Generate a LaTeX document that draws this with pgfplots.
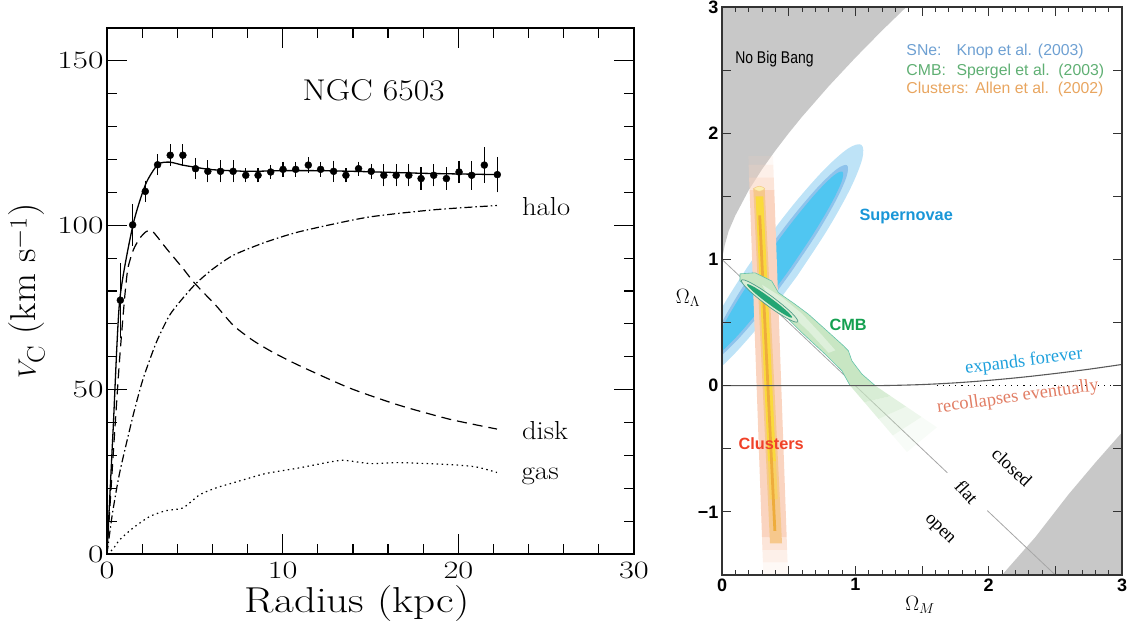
\documentclass[border=0pt]{standalone}
\usepackage{fontspec}
\usepackage{pgfplots}
\pgfplotsset{compat=1.18}
\newfontfamily\arialf{Liberation Sans}
\newfontfamily\narrowf[FakeStretch=0.82]{Liberation Sans}
\newfontfamily\timesf{Liberation Serif}
\newcommand{\fs}[1]{\fontsize{#1}{#1}\selectfont}
\definecolor{snout}{RGB}{190,227,247}
\definecolor{snmid}{RGB}{142,195,236}
\definecolor{snin}{RGB}{80,198,241}
\definecolor{cmbfill}{RGB}{200,230,195}
\definecolor{cmbline}{RGB}{100,195,170}
\definecolor{cmbdark}{RGB}{35,165,115}
\definecolor{clout}{RGB}{250,212,192}
\definecolor{clmid}{RGB}{246,200,140}
\definecolor{clyel}{RGB}{250,218,60}
\definecolor{clcore}{RGB}{238,172,60}
\definecolor{greyreg}{RGB}{200,200,200}
\definecolor{snetext}{RGB}{110,160,210}
\definecolor{cmbtext}{RGB}{95,175,115}
\definecolor{cltext}{RGB}{232,165,95}
\definecolor{supertext}{RGB}{25,150,215}
\definecolor{cmblabel}{RGB}{20,160,80}
\definecolor{cllabel}{RGB}{240,65,40}
\definecolor{expcol}{RGB}{30,160,220}
\definecolor{reccol}{RGB}{225,125,100}

\pgfplotstableread{
r v e
0.76 77.2 10
1.46 100.1 5
2.18 110.3 1.9
2.88 118.4 1.8
3.60 121.3 1.9
4.32 121.3 1.9
5.04 117.2 1.9
5.74 116.4 2
6.46 116.4 2
7.18 116.4 2
7.90 115.2 0.8
8.60 115.2 0.8
9.32 116.2 0.8
10.02 117.0 0.9
10.74 117.0 0.9
11.46 118.3 1
12.16 117.0 0.9
12.90 116.4 1.9
13.60 115.2 0.8
14.32 117.2 0.8
15.04 116.4 0.9
15.76 115.2 2
16.46 115.2 2
17.18 115.2 2
17.88 114.2 2
18.60 115.2 2
19.32 114.2 2
20.04 116.2 2
20.76 115.2 3
21.48 118.3 4
22.22 115.4 4
}\rotdata

\begin{document}
\begin{tikzpicture}[x=1pt,y=1pt]
\path[use as bounding box] (0,0) rectangle (1132,624);

% ---------------- left panel ----------------
\begin{axis}[at={(107pt,70pt)}, anchor=south west, scale only axis,
  width=527pt, height=526pt,
  xmin=0, xmax=30, ymin=0, ymax=160,
  xtick={0,10,20,30}, ytick={0,50,100,150},
  minor x tick num=4, minor y tick num=4,
  tick align=inside, major tick length=20pt, minor tick length=10pt,
  axis line style={line width=1.5pt},
  every tick/.style={black, line width=1.2pt},
  tick label style={font=\fs{34}},
  xticklabel={\scalebox{1.3}[1]{$\pgfmathprintnumber{\tick}$}},
  yticklabel={\scalebox{1.35}[1]{$\pgfmathprintnumber{\tick}$}},
  xticklabel style={yshift=-5pt},
  xlabel={\scalebox{1.2}[1]{Radius (kpc)}}, ylabel={\scalebox{1.04}[1]{$V_{\mathrm{C}}$ (km s$^{-1}$)}},
  label style={font=\fs{36}},
  xlabel style={at={(axis description cs:0.475,-0.095)}, anchor=center},
  ylabel style={at={(axis description cs:-0.152,0.5)}, anchor=center},
]
\addplot[only marks, mark=*, mark size=3.5pt, black,
  error bars/.cd, y dir=both, y explicit,
  error bar style={line width=1.2pt},
  error mark options={mark size=4.5pt, line width=1.2pt}]
  table[x=r, y=v, y error=e] {\rotdata};
% total fit
\addplot[black, line width=1.3pt, smooth, tension=0.4] coordinates {
(0,0) (0.35,38) (0.72,77) (1.48,100.1) (2.2,112.5) (2.9,118.5) (3.56,119.2)
(4.3,118.3) (5.07,117.6) (6,116.9) (8,116.4) (10,116.6) (12,116.6) (14,116.4)
(16,116.1) (18,115.8) (20,115.6) (22.3,115.4)};
% disk
\addplot[black, line width=1.2pt, dash pattern=on 10pt off 6pt, smooth, tension=0.4] coordinates {
(0,0) (0.35,30) (0.7,58) (1.0,77.7) (1.19,86.9) (1.5,92.5) (1.86,96) (2.24,98.1)
(2.6,98.1) (3.37,93) (4.32,86.9) (5,82.3) (6.2,75.6) (7.2,69.5) (8.3,65) (9.43,61.4)
(10.95,57.3) (13.8,50.5) (16.6,45.3) (19.5,41) (22.2,38)};
% halo
\addplot[black, line width=1.2pt, dash pattern=on 8pt off 3pt on 1.5pt off 3pt, smooth, tension=0.4] coordinates {
(0,0) (0.3,12) (0.72,24.7) (1.48,42) (2.05,53.2) (2.81,64.4) (3.56,72.6)
(4.3,77.7) (5.07,82.3) (6,86.6) (7.2,90.9) (9,94.8) (11,98.1) (14.8,102.4)
(18.6,104.7) (22.2,106.0)};
% gas
\addplot[black, line width=1.2pt, dash pattern=on 1.5pt off 3.5pt, smooth, tension=0.4] coordinates {
(0,0) (0.34,1.5) (0.72,4.3) (1.48,7.9) (2.43,11.4) (3.37,13.2) (4.32,14.0)
(5.27,18.0) (6.2,20.1) (7.15,21.6) (8.1,23.1) (9.05,24.5) (10.95,26.2)
(12.7,28) (13.5,28.5) (15,27.5) (16.6,27.8) (19.5,27.2) (21,26.5) (22.2,24.8)};
\node[anchor=base west, font=\fs{30}] at (axis cs:10.94,137.9) {\scalebox{1.12}[1]{NGC 6503}};
\node[anchor=base west, font=\fs{26}] at (axis cs:23.43,103.1) {\scalebox{1.1}[1]{halo}};
\node[anchor=base west, font=\fs{26}] at (axis cs:23.43,34.9) {\scalebox{1.1}[1]{disk}};
\node[anchor=base west, font=\fs{26}] at (axis cs:23.4,22.6) {\scalebox{1.12}[1]{gas}};
\end{axis}

% ---------------- right panel ----------------
\begin{axis}[at={(722pt,49pt)}, anchor=south west, scale only axis,
  width=400pt, height=568pt,
  xmin=0, xmax=3, ymin=-1.5, ymax=3, axis on top,
  xtick={0,0.5,...,3}, xticklabels={0,,1,,2,,3}, minor x tick num=4,
  ytick={-1,-0.5,...,3}, yticklabels={−1,,0,,1,,2,,3},
  tick align=inside, major tick length=9pt, minor tick length=5pt,
  axis line style={line width=1.3pt, black!80},
  every tick/.style={black!80, line width=0.9pt},
  tick label style={font=\arialf\bfseries\fs{18}},
  xlabel={$\Omega_M$}, ylabel={$\Omega_\Lambda$},
  xlabel style={at={(axis description cs:0.495,-0.053)}, anchor=center, font=\fs{22}},
  ylabel style={at={(axis description cs:-0.085,0.488)}, anchor=center, rotate=-90, font=\fs{22}},
]
% No Big Bang region
\addplot[fill=greyreg, draw=none] coordinates {
(0,1.0) (0.02,1.111) (0.05,1.226) (0.1,1.348) (0.2,1.548) (0.3,1.714) (0.4,1.862)
(0.5,2.0) (0.6,2.130) (0.8,2.372) (1.0,2.598) (1.2,2.813) (1.4,3.018) (1.4,3.1) (0,3.1)} --cycle;
% bottom right grey region
\addplot[fill=greyreg, draw=none] coordinates {
(2.1,-1.5) (2.35,-1.2) (2.6,-0.86) (2.8,-0.61) (3,-0.37) (3,-1.5)} --cycle;
% flat line
\addplot[black!35, line width=0.8pt] coordinates {(0,1) (1.69,-0.69)};
\addplot[black!35, line width=0.8pt] coordinates {(1.99,-0.99) (2.5,-1.5)};
% Supernovae
\addplot[fill=snout, draw=none, smooth, tension=0.55] coordinates {
(0.562,0.867) (0.311,0.516) (0.078,0.235) (-0.103,0.065) (-0.205,0.034) (-0.212,0.145)
(-0.122,0.382) (0.050,0.708) (0.2785,1.075) (0.529,1.426) (0.762,1.707) (0.943,1.877)
(1.045,1.908) (1.052,1.797) (0.962,1.560) (0.790,1.234) (0.562,0.867)} --cycle;
\addplot[fill=snmid, draw=none, smooth, tension=0.55] coordinates {
(0.518,0.899) (0.313,0.607) (0.124,0.372) (-0.020,0.227) (-0.097,0.196) (-0.095,0.283)
(-0.015,0.474) (0.131,0.741) (0.322,1.044) (0.527,1.335) (0.716,1.570) (0.860,1.715)
(0.937,1.746) (0.935,1.659) (0.855,1.468) (0.709,1.201) (0.518,0.899)} --cycle;
\addplot[fill=snin, draw=none, smooth, tension=0.55] coordinates {
(0.500,0.912) (0.309,0.639) (0.135,0.418) (0.004,0.279) (-0.063,0.247) (-0.057,0.325)
(0.022,0.501) (0.161,0.748) (0.340,1.030) (0.531,1.303) (0.705,1.525) (0.836,1.663)
(0.903,1.695) (0.897,1.617) (0.818,1.441) (0.679,1.194) (0.500,0.912)} --cycle;
% Clusters
\addplot[fill=clout, draw=none] coordinates {(0.207,1.55) (0.392,1.55) (0.485,-1.2) (0.300,-1.2)} --cycle;
\addplot[fill=clout, fill opacity=0.6, draw=none] coordinates {(0.203,1.65) (0.388,1.65) (0.392,1.55) (0.207,1.55)} --cycle;
\addplot[fill=clout, fill opacity=0.35, draw=none] coordinates {(0.200,1.75) (0.385,1.75) (0.388,1.65) (0.203,1.65)} --cycle;
\addplot[fill=clout, fill opacity=0.15, draw=none] coordinates {(0.198,1.82) (0.383,1.82) (0.385,1.75) (0.200,1.75)} --cycle;
\addplot[fill=clout, fill opacity=0.6, draw=none] coordinates {(0.300,-1.2) (0.485,-1.2) (0.488,-1.3) (0.303,-1.3)} --cycle;
\addplot[fill=clout, fill opacity=0.35, draw=none] coordinates {(0.303,-1.3) (0.488,-1.3) (0.492,-1.4) (0.307,-1.4)} --cycle;
\addplot[fill=clout, fill opacity=0.15, draw=none] coordinates {(0.307,-1.4) (0.492,-1.4) (0.495,-1.5) (0.310,-1.5)} --cycle;
\addplot[fill=clmid, draw=none] coordinates {(0.235,1.56) (0.32,1.56) (0.45,-1.25) (0.36,-1.25)} --cycle;
\addplot[fill=clyel, draw=none] coordinates {(0.252,1.5) (0.309,1.5) (0.404,-0.6) (0.345,-0.6)} --cycle;
\addplot[fill=clyel, fill opacity=0.5, draw=none] coordinates {(0.345,-0.6) (0.404,-0.6) (0.418,-0.9) (0.358,-0.9)} --cycle;
\addplot[fill=clcore, draw=none] coordinates {(0.272,1.35) (0.293,1.35) (0.407,-1.15) (0.386,-1.15)} --cycle;
\addplot[fill=clyel!40!white, draw=clcore!60, line width=0.6pt, smooth, tension=0.6] coordinates {
(0.235,1.56) (0.26,1.545) (0.28,1.54) (0.30,1.545) (0.32,1.56) (0.30,1.575) (0.28,1.58) (0.26,1.575) (0.235,1.56)} --cycle;
% CMB
\addplot[fill=cmbfill, fill opacity=0.7, draw=none] coordinates {(0.961,0) (1.149,0) (1.2648,-0.0825) (1.0675,-0.1315)} --cycle;
\addplot[fill=cmbfill, fill opacity=0.5, draw=none] coordinates {(1.0675,-0.1315) (1.2648,-0.0825) (1.3805,-0.165) (1.174,-0.263)} --cycle;
\addplot[fill=cmbfill, fill opacity=0.3, draw=none] coordinates {(1.174,-0.263) (1.3805,-0.165) (1.4963,-0.2475) (1.2805,-0.3945)} --cycle;
\addplot[fill=cmbfill, fill opacity=0.12, draw=none] coordinates {(1.2805,-0.3945) (1.4963,-0.2475) (1.612,-0.33) (1.387,-0.526)} --cycle;
\addplot[fill=cmbfill, draw=cmbline, line width=0.6pt] coordinates {
(0.135,0.886) (0.248,0.894) (0.373,0.829) (0.423,0.737) (0.548,0.645) (0.648,0.566)
(0.773,0.448) (0.911,0.316) (0.948,0.276) (0.974,0.197) (1.049,0.092) (1.149,0)
(0.961,0) (0.899,0.118) (0.773,0.250) (0.598,0.421) (0.448,0.579) (0.298,0.710)
(0.135,0.829)} --cycle;
\addplot[fill=cmbfill!60!white, draw=none] coordinates {
(0.30,0.80) (0.45,0.70) (0.60,0.57) (0.75,0.40) (0.85,0.28) (0.80,0.26) (0.65,0.43) (0.50,0.58) (0.33,0.74)} --cycle;
\addplot[fill=cmbfill!70!white, draw=cmbline!80!black, line width=0.7pt, smooth, tension=0.55] coordinates {
(0.379,0.703) (0.297,0.764) (0.224,0.810) (0.171,0.836) (0.146,0.836) (0.154,0.811)
(0.192,0.765) (0.256,0.705) (0.335,0.639) (0.417,0.578) (0.490,0.532) (0.543,0.506)
(0.568,0.506) (0.560,0.531) (0.522,0.577) (0.458,0.637) (0.379,0.703)} --cycle;
\addplot[fill=cmbdark, draw=none, smooth, tension=0.55] coordinates {
(0.370,0.690) (0.305,0.739) (0.247,0.778) (0.206,0.800) (0.188,0.803) (0.196,0.786)
(0.228,0.751) (0.280,0.704) (0.344,0.652) (0.409,0.603) (0.467,0.564) (0.508,0.542)
(0.526,0.539) (0.518,0.556) (0.486,0.591) (0.434,0.638) (0.370,0.690)} --cycle;
% zero line and expansion boundary
\addplot[black!65, line width=1.1pt, smooth] coordinates {
(0,0) (1,0) (1.25,0.0015) (1.5,0.0087) (1.75,0.0223) (2,0.0419) (2.25,0.0667)
(2.5,0.0965) (2.75,0.130) (3,0.168)};
\addplot[black, line width=1pt, dash pattern=on 1.2pt off 5pt] coordinates {(1.61,0) (3,0)};
% texts
\node[anchor=base west, font=\narrowf\fs{17}] at (axis cs:0.073,2.552) {No Big Bang};
\node[anchor=base west, font=\arialf\fs{15.8}, text=snetext] at (axis cs:1.357,2.612) {SNe:};
\node[anchor=base west, font=\arialf\fs{15.8}, text=snetext] at (axis cs:1.733,2.612) {Knop et al. (2003)};
\node[anchor=base west, font=\arialf\fs{15.8}, text=cmbtext] at (axis cs:1.357,2.455) {CMB:};
\node[anchor=base west, font=\arialf\fs{15.8}, text=cmbtext] at (axis cs:1.733,2.455) {Spergel et al.\ \ (2003)};
\node[anchor=base west, font=\arialf\fs{15.8}, text=cltext] at (axis cs:1.357,2.318) {Clusters:};
\node[anchor=base west, font=\arialf\fs{15.8}, text=cltext] at (axis cs:1.873,2.318) {Allen et al.\ \ (2002)};
\node[anchor=base west, font=\arialf\bfseries\fs{16.3}, text=supertext] at (axis cs:1.005,1.310) {Supernovae};
\node[anchor=base west, font=\arialf\bfseries\fs{16.3}, text=cmblabel] at (axis cs:0.78,0.434) {CMB};
\node[anchor=base west, font=\arialf\bfseries\fs{16.3}, text=cllabel] at (axis cs:0.0975,-0.508) {Clusters};
\node[font=\timesf\fs{18.4}, text=expcol, rotate=7, inner sep=0pt] at (axis cs:2.265,0.189) {expands forever};
\node[font=\timesf\fs{18.4}, text=reccol, rotate=8, inner sep=0pt] at (axis cs:2.22,-0.092) {recollapses eventually};
\node[font=\timesf\fs{18.4}, rotate=-43, inner sep=0pt] at (axis cs:2.175,-0.647) {closed};
\node[font=\timesf\fs{18.4}, rotate=-48, inner sep=0pt] at (axis cs:1.835,-0.842) {flat};
\node[font=\timesf\fs{18.4}, rotate=-45, inner sep=0pt] at (axis cs:1.6275,-1.144) {open};
\end{axis}
\end{tikzpicture}
\end{document}
